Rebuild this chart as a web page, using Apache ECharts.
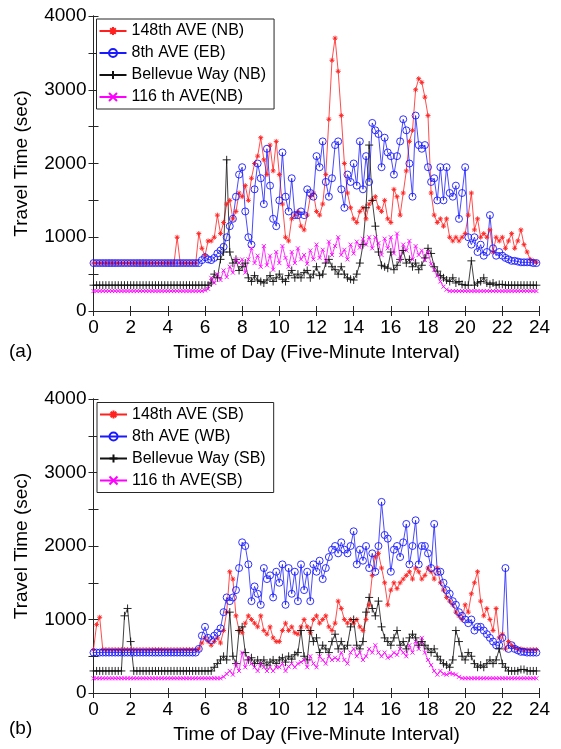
<!DOCTYPE html>
<html>
<head>
<meta charset="utf-8">
<script src="https://cdn.jsdelivr.net/npm/echarts@6/dist/echarts.min.js"></script>
<style>
html,body{margin:0;padding:0;background:#fff;}
#chart{width:561px;height:749px;}
</style>
</head>
<body>
<div id="chart"></div>
<script>
// Time step between samples (minutes); samples start at 0:00
const stepMinutes = 10;
const xTickHours = [0,2,4,6,8,10,12,14,16,18,20,22,24];
const yTickValues = [0,1000,2000,3000,4000];

const namesA = ['148th AVE (NB)', '8th AVE (EB)', 'Bellevue Way (NB)', '116 th AVE(NB)'];
const namesB = ['148th AVE (SB)', '8th AVE (WB)', 'Bellevue Way (SB)', '116 th AVE(SB)'];

// Panel (a) travel times (sec)
const redA = [
650,650,650,650,650,650, 650,650,650,650,650,650, 650,650,650,650,650,650, 650,650,650,650,650,650,
650,650,650,1000,650,650, 650,650,650,650,1050,850, 750,950,950,1000,1300,1050, 1200,1450,1500,1250,1350,1600,
1550,1700,1500,1800,2000,2100, 2350,2050,1850,2250,1900,2300, 1850,1450,1000,950,1250,1300, 1350,1150,1100,1300,1550,1600,
1350,1300,1450,1850,2600,3400, 3700,3250,2650,2000,1600,1400, 1250,1200,1350,1400,1250,1450, 1500,1550,1400,1350,1500,1250,
1200,1650,1550,1300,1600,1900, 2300,2450,3000,3150,3100,2900, 2650,1600,1300,1200,1250,1150, 1250,1000,950,1000,950,1000,
1050,1300,1600,1100,1250,1000, 1050,1000,1100,800,1000,950, 1000,850,950,1050,850,950, 1100,900,800,700,680,660
];
const blueA = [
650,650,650,650,650,650, 650,650,650,650,650,650, 650,650,650,650,650,650, 650,650,650,650,650,650,
650,650,650,650,650,650, 650,650,650,650,650,690, 730,700,690,720,780,820, 870,1000,1150,1250,1550,1850,
1950,1350,1000,900,1650,2000, 1800,1450,2200,1700,1250,1150, 1500,2150,1550,1350,1800,1300, 1300,1350,1300,1650,1600,1550,
2100,1950,2300,1750,1550,1800, 2250,2300,1650,1400,1850,1750, 2000,1700,2300,1650,2100,1750, 2550,2450,2400,1950,2350,2150,
2100,1850,2100,2300,2600,2450, 2000,1550,2650,2250,2200,2250, 1950,1750,1800,1500,1950,1500, 1950,1600,1550,1700,1250,1600,
1950,1000,900,1000,800,900, 750,800,1300,850,750,800, 750,720,700,680,680,670, 660,660,660,660,650,650
];
const blackA = [
350,350,350,350,350,350, 350,350,350,350,350,350, 350,350,350,350,350,350, 350,350,350,350,350,350,
350,350,350,350,350,350, 350,350,350,350,350,350, 350,350,380,500,450,700, 800,2050,800,650,700,550,
600,650,450,400,480,420, 400,380,420,480,400,450, 500,430,400,480,550,450, 500,450,520,550,450,500,
600,480,500,650,700,600, 560,500,600,500,450,430, 420,500,650,900,1400,2250, 1500,1150,800,620,600,580,
800,560,620,700,820,650, 700,600,650,560,620,720, 850,780,600,540,480,450, 420,400,450,380,400,360,
350,350,680,350,380,400, 450,380,360,380,350,360, 360,350,350,350,350,350, 350,350,350,350,350,350
];
const magentaA = [
270,270,270,270,270,270, 270,270,270,270,270,270, 270,270,270,270,270,270, 270,270,270,270,270,270,
270,270,270,270,270,270, 270,270,270,270,270,270, 280,300,450,380,500,420, 550,460,600,520,700,650,
700,520,700,850,650,750, 600,880,620,750,560,800, 650,880,720,600,800,650, 850,700,760,640,820,700,
900,720,830,680,940,760, 880,1000,760,830,700,900, 780,940,860,980,900,1000, 850,1000,920,760,980,850,
1000,780,1050,700,900,820, 950,700,880,760,820,690, 800,640,560,480,400,330, 290,270,270,270,270,270,
270,270,270,270,270,270, 270,270,270,270,270,270, 270,270,270,270,270,270, 270,270,270,270,270,270
];

// Panel (b) travel times (sec)
const redB = [
590,930,1030,590,590,590, 590,590,590,590,590,590, 590,590,590,590,590,590, 590,590,590,590,590,590,
590,590,590,590,590,590, 590,590,590,590,600,680, 750,700,650,700,750,680, 850,1100,1650,1550,1050,850,
820,950,1050,1000,950,900, 1050,850,800,900,750,700, 700,850,950,850,900,820, 800,900,1000,900,820,1000,
1050,950,1000,1050,900,850, 950,1250,1150,1000,950,1000, 950,1000,900,850,1000,1200, 1600,1850,1900,1700,1500,1200,
1400,1500,1420,1500,1550,1600, 1650,1550,1700,1650,1550,1600, 1700,1650,1550,1700,1500,1400, 1300,1250,1200,1100,1050,1000,
1200,1100,1350,1500,1650,1250, 1050,1150,1000,850,1150,750, 800,600,700,650,620,600, 600,590,590,590,590,590
];
const blueB = [
550,550,550,550,550,550, 550,550,550,550,550,550, 550,550,550,550,550,550, 550,550,550,550,550,550,
550,550,550,550,550,550, 550,550,550,550,600,780, 900,750,720,780,820,880, 1100,1300,1250,1300,1400,1700,
2050,2000,1750,1250,1450,1350, 1200,1700,1550,1600,1300,1650, 1500,1750,1200,1700,1350,1650, 1250,1750,1400,1650,1250,1750,
1650,1800,1550,1700,1850,1950, 2000,1900,2050,1950,1900,2000, 2200,1750,1950,1800,2000,1700, 1900,1650,2000,2600,2150,2100,
1650,1950,2000,1850,2050,2300, 1750,2000,2350,1750,2000,2000, 1900,1700,2300,1650,1650,1500, 1400,1350,1250,1200,1100,1050,
1000,950,1000,850,900,900, 850,800,750,700,650,650, 750,1700,600,650,600,580, 560,560,550,550,550,550
];
const blackB = [
300,300,300,300,300,300, 300,300,300,300,1050,1150, 700,300,300,300,300,300, 300,300,300,300,300,300,
300,300,300,300,300,300, 300,300,300,300,300,300, 300,300,300,350,400,450, 500,450,1100,500,400,850,
900,550,450,480,400,450, 400,450,380,420,450,400, 450,480,420,500,460,520, 550,850,500,450,850,700,
750,550,650,600,550,700, 800,600,700,600,650,900, 1000,650,600,700,1100,1300, 1150,1050,1250,900,750,700,
650,750,850,650,700,600, 750,800,750,650,700,650, 600,550,600,500,450,400, 380,350,450,850,700,500,
450,550,500,400,350,380, 350,400,450,400,450,600, 400,350,300,300,300,300, 320,320,300,300,300,300
];
const magentaB = [
200,200,200,200,200,200, 200,200,200,200,200,200, 200,200,200,200,200,200, 200,200,200,200,200,200,
200,200,200,200,200,200, 200,200,200,200,200,200, 200,200,200,200,200,200, 220,260,300,250,400,300,
550,350,480,400,350,300, 400,350,300,350,300,350, 350,400,300,360,400,350, 400,420,450,350,500,400,
350,500,450,400,500,450, 480,450,550,450,400,550, 600,500,550,450,500,600, 550,650,550,500,550,480,
500,550,520,600,550,500, 650,550,700,600,750,550, 450,380,300,250,300,260, 250,270,260,250,220,200,
200,200,200,200,200,200, 200,200,200,200,200,200, 200,200,200,200,200,200, 200,200,200,200,200,200
];

const FONT = "'Liberation Sans', Arial, sans-serif";
const AXIS_COLOR = '#262626';

const SYM_STAR = 'path://M0,5L10,5M5,0L5,10M1.5,1.5L8.5,8.5M1.5,8.5L8.5,1.5';
const SYM_PLUS = 'path://M0,5L10,5M5,0L5,10';
const SYM_X = 'path://M0,0L10,10M0,10L10,0';

function toPairs(arr) {
  return arr.map((v, i) => [i * stepMinutes / 60, v]);
}

function mkSeries(name, data, color, symbol, size, axisIdx) {
  const isCircle = symbol === 'circle';
  return {
    name: name,
    type: 'line',
    xAxisIndex: axisIdx,
    yAxisIndex: axisIdx,
    data: toPairs(data),
    symbol: symbol,
    symbolSize: size,
    showAllSymbol: true,
    lineStyle: { color: color, width: 0.8 },
    itemStyle: { color: isCircle ? 'rgba(0,0,0,0)' : color, borderColor: color, borderWidth: 0.9 },
    emphasis: { disabled: true },
    z: 2
  };
}

function xAxisPair(gridIndex, withName) {
  return [{
    type: 'value', gridIndex: gridIndex, position: 'bottom', min: 0, max: 24, interval: 2,
    axisLine: { show: true, lineStyle: { color: AXIS_COLOR, width: 1 } },
    axisTick: { show: true, inside: true, length: 5, lineStyle: { color: AXIS_COLOR } },
    axisLabel: { color: '#000', fontFamily: FONT, fontSize: 19, margin: 7,
      formatter: v => (xTickHours.indexOf(v) >= 0 ? String(v) : '') },
    splitLine: { show: false },
    name: withName ? 'Time of Day (Five-Minute Interval)' : '',
    nameLocation: 'middle', nameGap: 32,
    nameTextStyle: { color: '#000', fontFamily: FONT, fontSize: 19 }
  }, {
    type: 'value', gridIndex: gridIndex, position: 'top', min: 0, max: 24, interval: 2,
    axisLine: { show: true, lineStyle: { color: AXIS_COLOR, width: 1 } },
    axisTick: { show: true, inside: true, length: 5, lineStyle: { color: AXIS_COLOR } },
    axisLabel: { show: false }, splitLine: { show: false }
  }];
}

function yAxisPair(gridIndex) {
  return [{
    type: 'value', gridIndex: gridIndex, position: 'left', min: 0, max: 4000, interval: 500,
    axisLine: { show: true, lineStyle: { color: AXIS_COLOR, width: 1 } },
    axisTick: { show: true, inside: true, length: 5, lineStyle: { color: AXIS_COLOR } },
    axisLabel: { color: '#000', fontFamily: FONT, fontSize: 19, margin: 7,
      formatter: v => (yTickValues.indexOf(v) >= 0 ? String(v) : '') },
    splitLine: { show: false },
    name: 'Travel Time (sec)', nameLocation: 'middle', nameGap: 62, nameRotate: 90,
    nameTextStyle: { color: '#000', fontFamily: FONT, fontSize: 19 }
  }, {
    type: 'value', gridIndex: gridIndex, position: 'right', min: 0, max: 4000, interval: 500,
    axisLine: { show: true, lineStyle: { color: AXIS_COLOR, width: 1 } },
    axisTick: { show: true, inside: true, length: 5, lineStyle: { color: AXIS_COLOR } },
    axisLabel: { show: false }, splitLine: { show: false }
  }];
}

function legendFor(names, left, top) {
  return {
    data: names, orient: 'vertical', left: left, top: top,
    itemWidth: 27, itemHeight: 10, itemGap: 6,
    padding: [4, 8, 4, 2],
    backgroundColor: '#fff', borderColor: AXIS_COLOR, borderWidth: 1, borderRadius: 0,
    textStyle: { color: '#000', fontFamily: FONT, fontSize: 16 },
    selectedMode: false, z: 10
  };
}

const chart = echarts.init(document.getElementById('chart'), null, { renderer: 'canvas' });
chart.setOption({
  animation: false,
  backgroundColor: '#fff',
  grid: [
    { left: 93.5, top: 16, width: 446, height: 295 },
    { left: 93.5, top: 399, width: 446, height: 294 }
  ],
  xAxis: [].concat(xAxisPair(0, true), xAxisPair(1, true)),
  yAxis: [].concat(yAxisPair(0), yAxisPair(1)),
  legend: [legendFor(namesA, 96.5, 19), legendFor(namesB, 97, 402.5)],
  graphic: [
    { type: 'text', left: 9, top: 342, style: { text: '(a)', fontFamily: FONT, fontSize: 19, fill: '#000' } },
    { type: 'text', left: 9, top: 719, style: { text: '(b)', fontFamily: FONT, fontSize: 19, fill: '#000' } }
  ],
  series: [
    mkSeries(namesA[0], redA, '#ff2020', SYM_STAR, 5, 0),
    mkSeries(namesA[1], blueA, '#1a1aff', 'circle', 7, 0),
    mkSeries(namesA[2], blackA, '#111111', SYM_PLUS, 8, 0),
    mkSeries(namesA[3], magentaA, '#ff00ff', SYM_X, 4, 0),
    mkSeries(namesB[0], redB, '#ff2020', SYM_STAR, 5, 2),
    mkSeries(namesB[1], blueB, '#1a1aff', 'circle', 7, 2),
    mkSeries(namesB[2], blackB, '#111111', SYM_PLUS, 8, 2),
    mkSeries(namesB[3], magentaB, '#ff00ff', SYM_X, 4, 2)
  ]
});
</script>
</body>
</html>
